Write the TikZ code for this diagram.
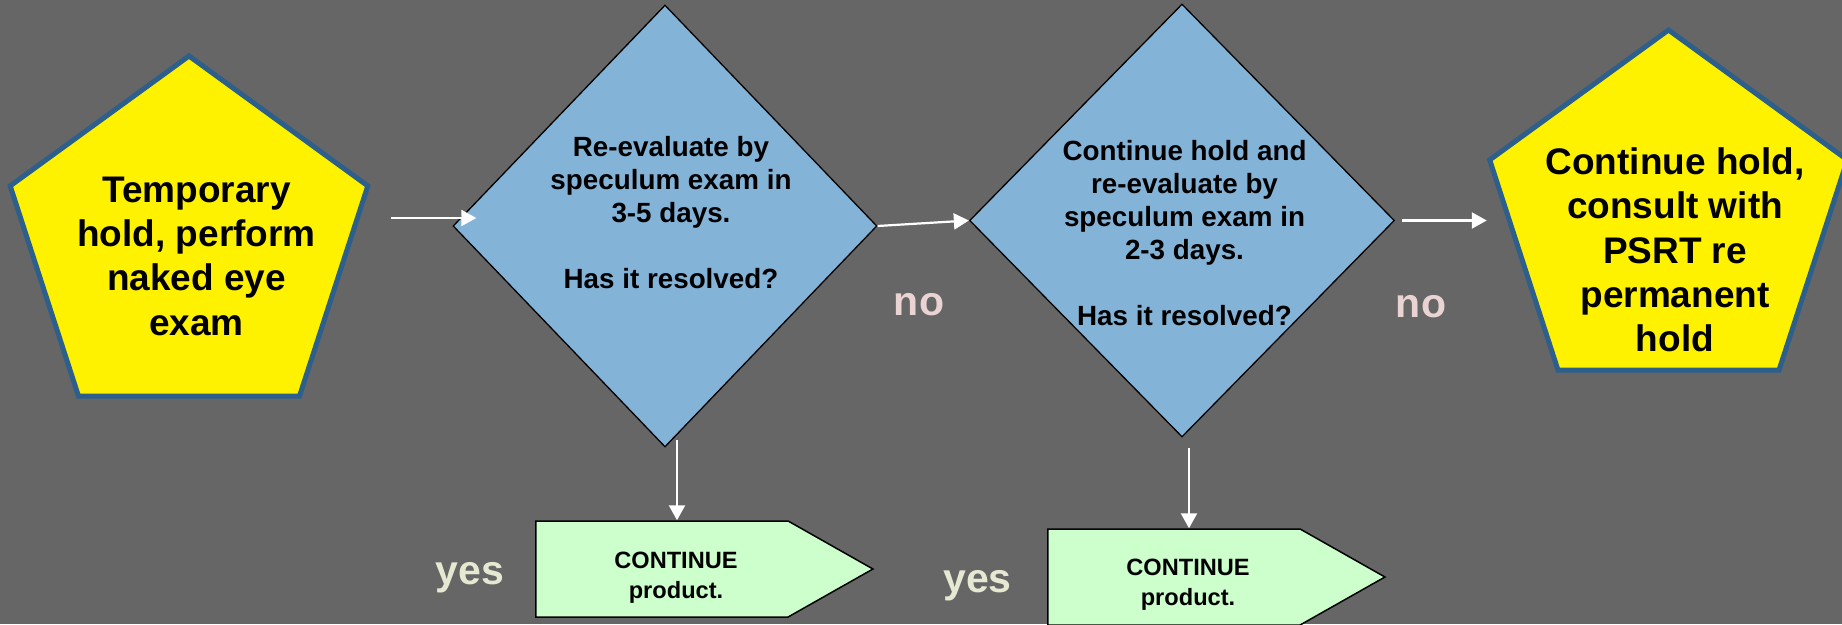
\documentclass[tikz,border=0pt]{standalone}
\usepackage{fontspec}
\setmainfont{Liberation Sans}
\usetikzlibrary{shapes.geometric,shapes.symbols,arrows.meta}

\definecolor{slate}{HTML}{666666}
\definecolor{pentaedge}{HTML}{2D5F8C}
\definecolor{decision}{HTML}{84B3D8}
\definecolor{mint}{HTML}{CCFFCC}
\definecolor{nopink}{HTML}{EAD3D3}
\definecolor{yescream}{HTML}{E6E8D2}

\begin{document}
\begin{tikzpicture}[x=1pt,y=-1pt,
  penta/.style={regular polygon, regular polygon sides=5, minimum size=376pt,
    inner sep=0pt, draw=pentaedge, line width=5pt, fill=yellow},
  decide/.style={diamond, inner sep=0pt, draw=black, line width=1.3pt, fill=decision},
  contbox/.style={signal, signal to=east, signal from=nowhere, signal pointer angle=59,
    minimum width=337pt, minimum height=96pt, inner sep=0pt,
    draw=black, line width=1.5pt, fill=mint},
  bigtxt/.style={align=center, font=\bfseries\fontsize{37}{44.3}\selectfont, inner sep=0pt},
  midtxt/.style={align=center, font=\bfseries\fontsize{27.8}{33}\selectfont, inner sep=0pt},
  smalltxt/.style={align=center, font=\bfseries\fontsize{23.6}{30}\selectfont, inner sep=0pt},
  nolabel/.style={anchor=base, font=\bfseries\fontsize{41}{48}\selectfont, text=nopink, inner sep=0pt},
  yeslabel/.style={anchor=base, font=\bfseries\fontsize{41}{48}\selectfont, text=yescream, inner sep=0pt},
  arr/.style={draw=white, line width=2.2pt, -{Triangle[length=15pt,width=16pt]}}]

% background
\fill[slate] (0,0) rectangle (1842,624);
\useasboundingbox (0,0) rectangle (1842,624);

% shapes
\node[penta] (p1) at (189,244) {};
\node[decide, minimum width=424pt, minimum height=442pt] (d1) at (665,226) {};
\node[decide, minimum width=425pt, minimum height=433pt] (d2) at (1182,220.5) {};
\node[penta] (p2) at (1668.5,218) {};
% a signal is centred on its body, the pointer sticks out to the east
\node[contbox] (c1) at (662,569) {};
\node[contbox] (c2) at (1174,577) {};

% texts
\node[bigtxt] (p1t) at (196.5,256) {Temporary\\hold, perform\\naked eye\\exam};
\node[midtxt] (d1t) at (671,213) {Re-evaluate by\\speculum exam in\\3-5 days.\\[33pt]Has it resolved?};
\node[midtxt] (d2t) at (1184.5,233) {Continue hold and\\re-evaluate by\\speculum exam in\\2-3 days.\\[33pt]Has it resolved?};
\node[bigtxt] (p2t) at (1675,250) {Continue hold,\\consult with\\PSRT re\\permanent\\hold};
\node[smalltxt] (c1t) at (676,577.5) {CONTINUE\\product.};
\node[smalltxt] (c2t) at (1188,585) {CONTINUE\\product.};

% branch labels
\node[nolabel] (no1) at (919,315) {no};
\node[nolabel] (no2) at (1421,317) {no};
\node[yeslabel] (yes1) at (470,584) {yes};
\node[yeslabel] (yes2) at (977.5,592) {yes};

% free ends of connectors
\coordinate (in1) at (391,218);
\coordinate (dn1) at (677,440);
\coordinate (dn2) at (1189,448);

% connectors
\draw[arr] (in1) -- ([xshift=24pt]in1 -| d1.west);
\draw[arr] (d1.east) -- (d2.west);
\draw[arr] ([xshift=7pt]d2.east) -- (d2.east -| p2.corner 2);
\draw[arr] (dn1) -- (dn1 |- c1.north);
\draw[arr] (dn2) -- (dn2 |- c2.north);
\end{tikzpicture}
\end{document}
